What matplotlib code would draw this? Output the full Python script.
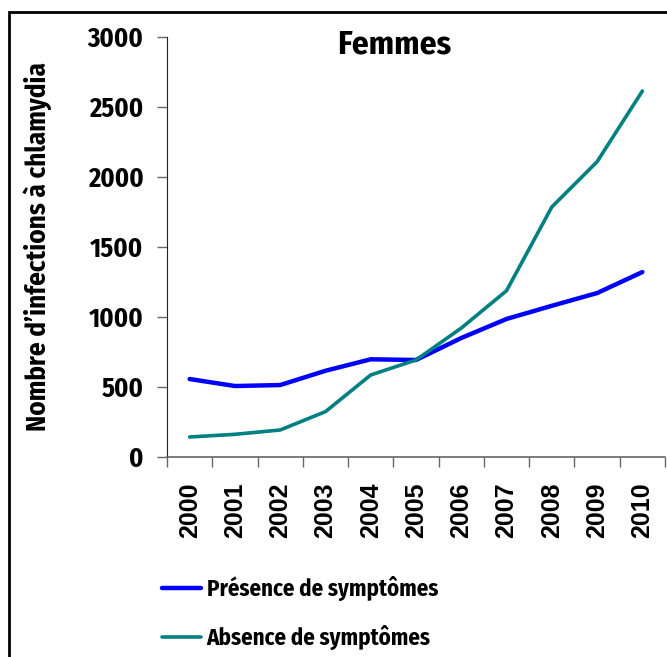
import matplotlib
matplotlib.use("Agg")
import matplotlib.pyplot as plt
from matplotlib.patches import Rectangle

# data
years = ["2000", "2001", "2002", "2003", "2004", "2005",
         "2006", "2007", "2008", "2009", "2010"]
presence = [557, 507, 514, 616, 698, 693, 850, 986, 1080, 1171, 1321]
absence = [143, 162, 193, 324, 586, 693, 921, 1188, 1786, 2109, 2614]

NARROW = ["Fira Sans Condensed", "PT Sans Narrow", "DejaVu Sans"]
BLUE = "#0000ff"
TEAL = "#008080"

fig = plt.figure(figsize=(6.67, 6.57), dpi=100)
ax = fig.add_axes([0.2504, 0.3044, 0.7466, 0.6393])

x = list(range(len(years)))
l1, = ax.plot(x, presence, color=BLUE, lw=3.2, solid_capstyle="round")
l2, = ax.plot(x, absence, color=TEAL, lw=2.6, solid_capstyle="round")

ax.set_xlim(-0.5, len(years) - 0.5)
ax.set_ylim(0, 3000)
ax.set_yticks(range(0, 3001, 500))
ax.set_yticklabels([str(v) for v in range(0, 3001, 500)],
                   fontfamily=NARROW, fontweight="bold", fontsize=19)

# ticks between categories, labels at centres
ax.set_xticks([i - 0.5 for i in range(len(years) + 1)])
ax.set_xticklabels([])
ax.set_xticks(x, minor=True)
ax.set_xticklabels(years, minor=True, rotation=90, fontfamily="Liberation Sans",
                   fontweight="bold", fontsize=18)
ax.tick_params(axis="x", which="minor", length=0, pad=18)
ax.tick_params(axis="both", which="major", length=7, width=1, color="#666666",
               direction="out")
ax.tick_params(axis="y", pad=10)

for s in ["top", "right"]:
    ax.spines[s].set_visible(False)
ax.spines["left"].set_color("#222222")
ax.spines["bottom"].set_color("#666666")
ax.spines["bottom"].set_linewidth(1.2)

ax.set_ylabel("Nombre d\u2019infections à chlamydia", fontfamily=NARROW,
              fontweight="bold", fontsize=19.5)
ax.yaxis.set_label_coords(-0.23, 0.5)

fig.text(394 / 667, 1 - 45 / 657, "Femmes", fontfamily=NARROW, fontweight="bold",
         fontsize=24, ha="center", va="center")

fig.legend([l1, l2], ["Présence de symptômes", "Absence de symptômes"],
           loc="center left", bbox_to_anchor=(162 / 667, 1 - 613 / 657),
           frameon=False, prop={"family": NARROW, "weight": "bold", "size": 16.5},
           handlelength=1.7, handletextpad=0.25, labelspacing=1.05,
           borderpad=0, borderaxespad=0)

# outer frame (clipped at right and bottom in the reference)
fig.patches.append(Rectangle((9 / 667, -0.05), 1.2, 1 - 12 / 657 + 0.05,
                             transform=fig.transFigure, fill=False,
                             edgecolor="black", lw=2))

fig.savefig("out.png", dpi=100)
